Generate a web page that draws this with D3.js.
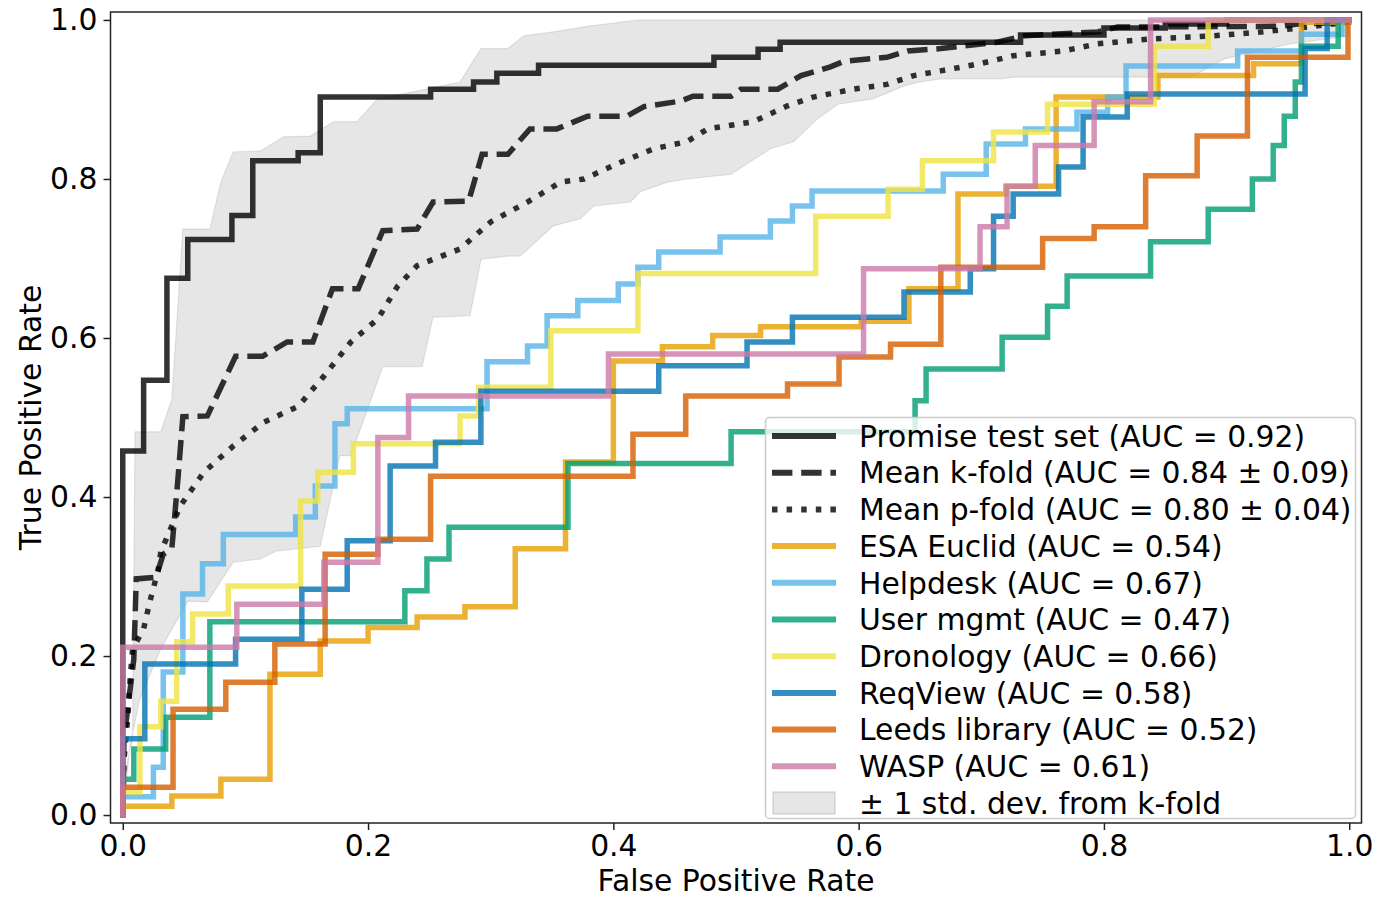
<!DOCTYPE html>
<html>
<head>
<meta charset="utf-8">
<script src="https://cdn.jsdelivr.net/npm/d3@7"></script>
<style>
  body { margin: 0; background: #fff; }
  svg { display: block; }
  text { font-family: "DejaVu Sans", sans-serif; fill: #000; }
</style>
</head>
<body>
<svg id="chart" width="1373" height="898"></svg>
<script>
// ROC curves, [false positive rate, true positive rate] corners
var promiseTest = [[0,0],[0,0.458],[0.017,0.458],[0.017,0.547],[0.036,0.547],[0.036,0.675],[0.053,0.675],[0.053,0.724],[0.089,0.724],[0.089,0.754],[0.106,0.754],[0.106,0.823],[0.143,0.823],[0.143,0.833],[0.161,0.833],[0.161,0.903],[0.251,0.903],[0.251,0.913],[0.286,0.913],[0.286,0.922],[0.305,0.922],[0.305,0.933],[0.339,0.933],[0.339,0.943],[0.482,0.943],[0.482,0.953],[0.518,0.953],[0.518,0.963],[0.536,0.963],[0.536,0.972],[0.732,0.972],[0.732,0.981],[0.8,0.981],[0.8,0.99],[0.85,0.99],[0.85,0.995],[0.9,0.995],[0.9,1],[1,1]];

var meanKfold = [[0,0],[0.001,0.096],[0.009,0.196],[0.011,0.297],[0.027,0.299],[0.033,0.328],[0.040,0.335],[0.045,0.423],[0.049,0.501],[0.069,0.502],[0.092,0.577],[0.114,0.577],[0.134,0.595],[0.155,0.595],[0.171,0.662],[0.192,0.662],[0.212,0.735],[0.240,0.737],[0.253,0.771],[0.282,0.772],[0.293,0.831],[0.314,0.831],[0.332,0.863],[0.354,0.863],[0.379,0.879],[0.411,0.879],[0.425,0.891],[0.455,0.898],[0.465,0.904],[0.496,0.904],[0.504,0.913],[0.534,0.913],[0.553,0.930],[0.577,0.941],[0.588,0.948],[0.623,0.953],[0.640,0.961],[0.667,0.964],[0.713,0.972],[0.735,0.980],[0.795,0.985],[0.811,0.991],[0.944,0.992],[0.958,0.995],[0.998,0.997],[1,1]];

var meanPfold = [[0,0],[0.001,0.070],[0.004,0.121],[0.006,0.171],[0.008,0.209],[0.017,0.234],[0.022,0.268],[0.029,0.309],[0.031,0.331],[0.047,0.389],[0.066,0.431],[0.090,0.464],[0.115,0.494],[0.143,0.514],[0.164,0.552],[0.186,0.595],[0.208,0.624],[0.224,0.665],[0.240,0.691],[0.275,0.712],[0.300,0.746],[0.330,0.771],[0.357,0.796],[0.376,0.800],[0.406,0.821],[0.433,0.838],[0.460,0.847],[0.477,0.863],[0.514,0.872],[0.542,0.892],[0.563,0.903],[0.596,0.913],[0.623,0.919],[0.645,0.930],[0.667,0.936],[0.699,0.945],[0.726,0.955],[0.767,0.961],[0.795,0.970],[0.836,0.976],[0.889,0.980],[0.930,0.985],[0.971,0.992],[0.998,0.997],[1,1]];

// k-fold mean +/- 1 std
var kfoldUpper = [[0,0],[0.004,0.070],[0.008,0.096],[0.010,0.482],[0.031,0.482],[0.040,0.523],[0.049,0.737],[0.071,0.737],[0.080,0.796],[0.090,0.834],[0.112,0.835],[0.131,0.853],[0.153,0.854],[0.172,0.872],[0.191,0.872],[0.208,0.901],[0.235,0.909],[0.275,0.922],[0.292,0.964],[0.314,0.964],[0.327,0.980],[0.351,0.985],[0.379,0.992],[0.420,1],[1,1]];
var kfoldLower = [[0,0],[0.006,0.089],[0.014,0.146],[0.031,0.209],[0.053,0.269],[0.069,0.268],[0.090,0.318],[0.112,0.322],[0.125,0.332],[0.161,0.338],[0.177,0.452],[0.186,0.452],[0.212,0.564],[0.244,0.564],[0.253,0.626],[0.283,0.628],[0.289,0.674],[0.292,0.699],[0.314,0.703],[0.324,0.703],[0.351,0.741],[0.373,0.750],[0.384,0.766],[0.414,0.771],[0.422,0.784],[0.444,0.796],[0.460,0.800],[0.496,0.806],[0.528,0.838],[0.547,0.847],[0.566,0.875],[0.583,0.894],[0.612,0.901],[0.637,0.917],[0.650,0.922],[0.667,0.926],[0.716,0.926],[0.726,0.928],[0.871,0.928],[0.898,0.951],[0.952,0.970],[1,0.980]];

var esaEuclid = [[0,0],[0,0.011],[0.040,0.011],[0.040,0.024],[0.080,0.024],[0.080,0.045],[0.120,0.045],[0.120,0.177],[0.161,0.177],[0.161,0.219],[0.200,0.219],[0.200,0.236],[0.240,0.236],[0.240,0.249],[0.279,0.249],[0.279,0.262],[0.320,0.262],[0.320,0.335],[0.361,0.335],[0.361,0.444],[0.400,0.444],[0.400,0.571],[0.440,0.571],[0.440,0.589],[0.481,0.589],[0.481,0.603],[0.520,0.603],[0.520,0.614],[0.602,0.614],[0.602,0.621],[0.641,0.621],[0.641,0.662],[0.681,0.662],[0.681,0.781],[0.720,0.781],[0.720,0.791],[0.761,0.791],[0.761,0.903],[0.844,0.903],[0.844,0.930],[0.922,0.930],[0.922,0.945],[0.961,0.945],[0.961,0.997],[1,0.997],[1,1]];

var helpdesk = [[0,0],[0,0.023],[0.025,0.023],[0.025,0.060],[0.033,0.060],[0.033,0.180],[0.049,0.180],[0.049,0.278],[0.065,0.278],[0.065,0.316],[0.082,0.316],[0.082,0.353],[0.141,0.353],[0.141,0.375],[0.157,0.375],[0.157,0.414],[0.173,0.414],[0.173,0.492],[0.183,0.492],[0.183,0.511],[0.297,0.511],[0.297,0.570],[0.330,0.570],[0.330,0.590],[0.346,0.590],[0.346,0.628],[0.371,0.628],[0.371,0.647],[0.404,0.647],[0.404,0.668],[0.420,0.668],[0.420,0.689],[0.437,0.689],[0.437,0.708],[0.487,0.708],[0.487,0.727],[0.528,0.727],[0.528,0.747],[0.546,0.747],[0.546,0.766],[0.562,0.766],[0.562,0.785],[0.669,0.785],[0.669,0.806],[0.704,0.806],[0.704,0.844],[0.736,0.844],[0.736,0.863],[0.778,0.863],[0.778,0.884],[0.803,0.884],[0.803,0.903],[0.818,0.903],[0.818,0.942],[0.909,0.942],[0.909,0.961],[0.961,0.961],[0.961,0.982],[0.994,0.982],[0.994,1],[1,1]];

var userMgmt = [[0,0],[0,0.045],[0.009,0.045],[0.009,0.083],[0.035,0.083],[0.035,0.123],[0.071,0.123],[0.071,0.243],[0.230,0.243],[0.230,0.282],[0.248,0.282],[0.248,0.322],[0.266,0.322],[0.266,0.362],[0.363,0.362],[0.363,0.442],[0.496,0.442],[0.496,0.482],[0.646,0.482],[0.646,0.521],[0.655,0.521],[0.655,0.561],[0.717,0.561],[0.717,0.601],[0.754,0.601],[0.754,0.640],[0.770,0.640],[0.770,0.678],[0.838,0.678],[0.838,0.721],[0.885,0.721],[0.885,0.762],[0.921,0.762],[0.921,0.800],[0.938,0.800],[0.938,0.842],[0.947,0.842],[0.947,0.879],[0.956,0.879],[0.956,0.922],[0.961,0.922],[0.961,0.967],[0.991,0.967],[0.991,1],[1,1]];

var dronology = [[0,0],[0,0.029],[0.014,0.029],[0.014,0.111],[0.031,0.111],[0.031,0.143],[0.044,0.143],[0.044,0.218],[0.057,0.218],[0.057,0.253],[0.086,0.253],[0.086,0.288],[0.145,0.288],[0.145,0.395],[0.159,0.395],[0.159,0.431],[0.188,0.431],[0.188,0.467],[0.275,0.467],[0.275,0.502],[0.290,0.502],[0.290,0.538],[0.349,0.538],[0.349,0.609],[0.420,0.609],[0.420,0.681],[0.565,0.681],[0.565,0.753],[0.624,0.753],[0.624,0.787],[0.652,0.787],[0.652,0.823],[0.710,0.823],[0.710,0.859],[0.754,0.859],[0.754,0.894],[0.841,0.894],[0.841,0.967],[0.885,0.967],[0.885,1],[1,1]];

var reqView = [[0,0],[0,0.096],[0.018,0.096],[0.018,0.190],[0.092,0.190],[0.092,0.221],[0.146,0.221],[0.146,0.284],[0.183,0.284],[0.183,0.345],[0.218,0.345],[0.218,0.439],[0.255,0.439],[0.255,0.469],[0.292,0.469],[0.292,0.533],[0.437,0.533],[0.437,0.565],[0.509,0.565],[0.509,0.595],[0.546,0.595],[0.546,0.626],[0.637,0.626],[0.637,0.658],[0.691,0.658],[0.691,0.687],[0.710,0.687],[0.710,0.753],[0.726,0.753],[0.726,0.781],[0.763,0.781],[0.763,0.815],[0.783,0.815],[0.783,0.878],[0.819,0.878],[0.819,0.907],[0.964,0.907],[0.964,0.964],[0.982,0.964],[0.982,1],[1,1]];

var leedsLibrary = [[0,0],[0,0.035],[0.041,0.035],[0.041,0.133],[0.084,0.133],[0.084,0.167],[0.124,0.167],[0.124,0.215],[0.165,0.215],[0.165,0.328],[0.208,0.328],[0.208,0.347],[0.251,0.347],[0.251,0.426],[0.416,0.426],[0.416,0.479],[0.459,0.479],[0.459,0.527],[0.542,0.527],[0.542,0.542],[0.584,0.542],[0.584,0.576],[0.626,0.576],[0.626,0.592],[0.667,0.592],[0.667,0.689],[0.750,0.689],[0.750,0.725],[0.792,0.725],[0.792,0.740],[0.834,0.740],[0.834,0.804],[0.876,0.804],[0.876,0.854],[0.917,0.854],[0.917,0.953],[0.999,0.953],[0.999,1],[1,1]];

var wasp = [[0,0],[0,0.211],[0.093,0.211],[0.093,0.265],[0.164,0.265],[0.164,0.318],[0.208,0.318],[0.208,0.475],[0.233,0.475],[0.233,0.527],[0.396,0.527],[0.396,0.580],[0.604,0.580],[0.604,0.687],[0.699,0.687],[0.699,0.740],[0.721,0.740],[0.721,0.791],[0.744,0.791],[0.744,0.842],[0.792,0.842],[0.792,0.897],[0.838,0.897],[0.838,1],[1,1]];

var legendLabels = [
  "Promise test set (AUC = 0.92)",
  "Mean k-fold (AUC = 0.84 \u00b1 0.09)",
  "Mean p-fold (AUC = 0.80 \u00b1 0.04)",
  "ESA Euclid (AUC = 0.54)",
  "Helpdesk (AUC = 0.67)",
  "User mgmt (AUC = 0.47)",
  "Dronology (AUC = 0.66)",
  "ReqView (AUC = 0.58)",
  "Leeds library (AUC = 0.52)",
  "WASP (AUC = 0.61)",
  "\u00b1 1 std. dev. from k-fold"
];
var xTicks = [0, 0.2, 0.4, 0.6, 0.8, 1.0];
var yTicks = [0, 0.2, 0.4, 0.6, 0.8, 1.0];

var series = [
  {data: promiseTest, color: "#000000", dash: null},
  {data: meanKfold, color: "#000000", dash: "20.4,8.8"},
  {data: meanPfold, color: "#000000", dash: "5.5,9.1"},
  {data: esaEuclid, color: "#E69F00", dash: null},
  {data: helpdesk, color: "#56B4E9", dash: null},
  {data: userMgmt, color: "#009E73", dash: null},
  {data: dronology, color: "#F0E442", dash: null},
  {data: reqView, color: "#0072B2", dash: null},
  {data: leedsLibrary, color: "#D55E00", dash: null},
  {data: wasp, color: "#CC79A7", dash: null}
];

(function(){
  var svg = d3.select("#chart");
  var pLeft = 110.5, pRight = 1361.5, pTop = 12, pBottom = 823;
  var fs = "29.8px";

  var x = d3.scaleLinear().domain([-0.01, 1.01]).range([pLeft, pRight]);
  var y = d3.scaleLinear().domain([-0.01, 1.01]).range([pBottom, pTop]);

  svg.append("defs").append("clipPath").attr("id", "plotclip")
    .append("rect").attr("x", pLeft).attr("y", pTop)
    .attr("width", pRight - pLeft).attr("height", pBottom - pTop);

  var plot = svg.append("g").attr("clip-path", "url(#plotclip)");
  var line = d3.line().x(function(d){ return x(d[0]); }).y(function(d){ return y(d[1]); });

  // std band
  var band = kfoldUpper.concat(kfoldLower.slice().reverse());
  plot.append("path")
    .attr("d", line(band) + "Z")
    .attr("fill", "#808080").attr("fill-opacity", 0.2)
    .attr("stroke", "#808080").attr("stroke-opacity", 0.2).attr("stroke-width", 1.2);

  series.forEach(function(s){
    plot.append("path")
      .attr("d", line(s.data))
      .attr("fill", "none")
      .attr("stroke", s.color).attr("stroke-opacity", 0.8)
      .attr("stroke-width", 5.5)
      .attr("stroke-linejoin", "miter")
      .attr("stroke-linecap", s.dash ? "butt" : "square")
      .attr("stroke-dasharray", s.dash);
  });

  // axes
  var xAxis = svg.append("g").attr("transform", "translate(0," + pBottom + ")")
    .call(d3.axisBottom(x).tickValues(xTicks).tickFormat(d3.format(".1f")).tickSize(7).tickPadding(5));
  var yAxis = svg.append("g").attr("transform", "translate(" + pLeft + ",0)")
    .call(d3.axisLeft(y).tickValues(yTicks).tickFormat(d3.format(".1f")).tickSize(7).tickPadding(6));
  [xAxis, yAxis].forEach(function(a){
    a.select(".domain").remove();
    a.selectAll(".tick line").attr("stroke", "#222").attr("stroke-width", 1.5);
    a.selectAll(".tick text").style("font-size", fs).style("font-family", "DejaVu Sans").attr("fill", "#000");
  });

  svg.append("rect").attr("x", pLeft).attr("y", pTop)
    .attr("width", pRight - pLeft).attr("height", pBottom - pTop)
    .attr("fill", "none").attr("stroke", "#222").attr("stroke-width", 1.5);

  svg.append("text").attr("x", (pLeft + pRight) / 2).attr("y", 891)
    .attr("text-anchor", "middle").style("font-size", fs).text("False Positive Rate");
  svg.append("text").attr("transform", "translate(41," + (pTop + pBottom) / 2 + ") rotate(-90)")
    .attr("text-anchor", "middle").style("font-size", fs).text("True Positive Rate");

  // legend
  var lg = svg.append("g");
  lg.append("rect").attr("x", 765.5).attr("y", 417.5).attr("width", 590).attr("height", 401)
    .attr("rx", 4).attr("fill", "#fff").attr("fill-opacity", 0.8)
    .attr("stroke", "#ccc").attr("stroke-width", 1.5);
  var rowY = function(i){ return 436 + i * 36.7; };
  legendLabels.forEach(function(label, i){
    var yy = rowY(i);
    if (i < series.length) {
      var s = series[i];
      lg.append("line").attr("x1", 772).attr("x2", 836).attr("y1", yy).attr("y2", yy)
        .attr("stroke", s.color).attr("stroke-opacity", 0.8).attr("stroke-width", 6)
        .attr("stroke-dasharray", s.dash);
    } else {
      lg.append("rect").attr("x", 773).attr("y", yy - 11).attr("width", 62).attr("height", 22)
        .attr("fill", "#808080").attr("fill-opacity", 0.2)
        .attr("stroke", "#808080").attr("stroke-opacity", 0.2).attr("stroke-width", 2);
    }
    lg.append("text").attr("x", 859).attr("y", yy).attr("dy", "0.36em")
      .style("font-size", fs).text(label);
  });
})();
</script>
</body>
</html>
